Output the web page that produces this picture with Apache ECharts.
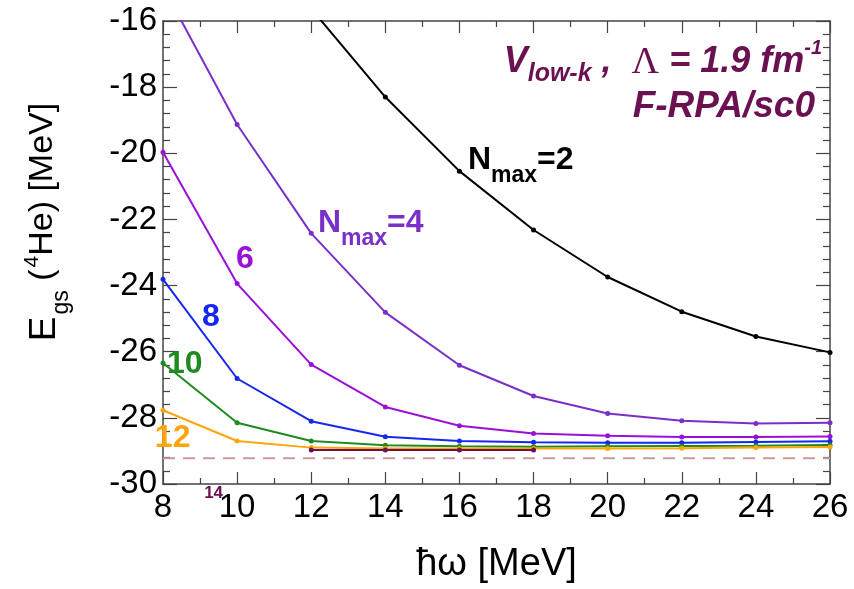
<!DOCTYPE html>
<html>
<head>
<meta charset="utf-8">
<script src="https://cdn.jsdelivr.net/npm/echarts@6/dist/echarts.min.js"></script>
<style>
  html, body { margin: 0; padding: 0; background: #fff; }
  #chart { width: 854px; height: 589px; }
</style>
</head>
<body>
<div id="chart"></div>
<script>
const hw = [8, 10, 12, 14, 16, 18, 20, 22, 24, 26];

const nmax2 = [null, null, -15.63, -18.30, -20.54, -22.32, -23.74, -24.79, -25.54, -26.02];
const nmax4 = [-14.96, -19.13, -22.42, -24.81, -26.41, -27.34, -27.87, -28.09, -28.17, -28.15];
const nmax6 = [-19.97, -23.94, -26.39, -27.67, -28.24, -28.47, -28.54, -28.58, -28.58, -28.56];
const nmax8 = [-23.81, -26.81, -28.10, -28.57, -28.70, -28.74, -28.75, -28.75, -28.73, -28.71];
const nmax10 = [-26.34, -28.15, -28.70, -28.83, -28.86, -28.87, -28.86, -28.85, -28.84, -28.82];
const nmax12 = [-27.77, -28.70, -28.90, -28.93, -28.93, -28.93, -28.93, -28.92, -28.90, -28.88];
const nmax14 = [null, null, -28.97, -28.97, -28.97, -28.97, null, null, null, null];
const exactLine = -29.22;

const lineColors = {
  n2: '#000000', n4: '#7a30c8', n6: '#9a10d8', n8: '#1428f0',
  n10: '#1f8a1f', n12: '#ffa50a', n14: '#6b1050'
};
const textColor = '#6b1050';

const el = document.getElementById('chart');
const chart = echarts.init(el);

function curve(name, vals, color) {
  return {
    name: name,
    type: 'line',
    data: hw.map((x, i) => [x, vals[i]]),
    connectNulls: false,
    clip: true,
    symbol: 'circle',
    symbolSize: 5,
    itemStyle: { color: color },
    lineStyle: { color: color, width: 2 },
    z: 3
  };
}

const axisLineStyle = { color: '#444', width: 1.5 };
const tickStyle = { color: '#444', width: 1.2 };
const font = 'Liberation Sans, Arial, sans-serif';

chart.setOption({
  animation: false,
  backgroundColor: '#fff',
  grid: { left: 163, right: 24, top: 21, bottom: 101 },
  xAxis: [
    {
      type: 'value', min: 8, max: 26, interval: 2, position: 'bottom',
      axisLine: { show: true, lineStyle: axisLineStyle },
      axisTick: { inside: true, length: 12, lineStyle: tickStyle },
      minorTick: { show: true, splitNumber: 2, length: 6, lineStyle: tickStyle },
      splitLine: { show: false },
      axisLabel: { color: '#000', fontSize: 33, fontFamily: font, margin: 7 },
      name: 'ħω [MeV]', nameLocation: 'middle', nameGap: 62,
      nameTextStyle: { color: '#000', fontSize: 38, fontFamily: font }
    },
    {
      type: 'value', min: 8, max: 26, interval: 2, position: 'top',
      axisLine: { show: true, onZero: false, lineStyle: axisLineStyle },
      axisTick: { inside: true, length: 12, lineStyle: tickStyle },
      minorTick: { show: true, splitNumber: 2, length: 6, lineStyle: tickStyle },
      splitLine: { show: false },
      axisLabel: { show: false }
    }
  ],
  yAxis: [
    {
      type: 'value', min: -30, max: -16, interval: 2, position: 'left',
      axisLine: { show: true, onZero: false, lineStyle: axisLineStyle },
      axisTick: { inside: true, length: 14, lineStyle: tickStyle },
      minorTick: { show: true, splitNumber: 5, length: 7, lineStyle: tickStyle },
      splitLine: { show: false },
      axisLabel: { color: '#000', fontSize: 33, fontFamily: font, margin: 6 }
    },
    {
      type: 'value', min: -30, max: -16, interval: 2, position: 'right',
      axisLine: { show: true, onZero: false, lineStyle: axisLineStyle },
      axisTick: { inside: true, length: 14, lineStyle: tickStyle },
      minorTick: { show: true, splitNumber: 5, length: 7, lineStyle: tickStyle },
      splitLine: { show: false },
      axisLabel: { show: false }
    }
  ],
  series: [
    {
      type: 'line',
      data: [[8, exactLine], [26, exactLine]],
      symbol: 'none',
      lineStyle: { color: '#c99a9a', width: 2, type: [12, 8] },
      z: 2
    },
    curve('Nmax=2', nmax2, lineColors.n2),
    curve('Nmax=4', nmax4, lineColors.n4),
    curve('Nmax=6', nmax6, lineColors.n6),
    curve('Nmax=8', nmax8, lineColors.n8),
    curve('Nmax=10', nmax10, lineColors.n10),
    curve('Nmax=12', nmax12, lineColors.n12),
    curve('Nmax=14', nmax14, lineColors.n14)
  ]
});

// curve labels, anchored in data coordinates (top-left corner)
const labels = [
  { at: [16.23, -19.73], text: '{n|N}{s|max}{n|=2}', color: lineColors.n2 },
  { at: [12.18, -21.63], text: '{n|N}{s|max}{n|=4}', color: lineColors.n4 },
  { at: [9.97, -22.71], text: '{n|6}', color: lineColors.n6 },
  { at: [9.05, -24.48], text: '{n|8}', color: lineColors.n8 },
  { at: [8.11, -25.89], text: '{n|10}', color: lineColors.n10 },
  { at: [7.78, -28.14], text: '{n|12}', color: lineColors.n12 },
  { at: [9.11, -30.02], text: '{m|14}', color: lineColors.n14 }
];

const graphics = labels.map(l => {
  const p = chart.convertToPixel({ gridIndex: 0 }, l.at);
  return {
    type: 'text', x: p[0], y: p[1], z: 10,
    style: {
      text: l.text,
      fill: l.color,
      rich: {
        n: { fontSize: 32, fontWeight: 'bold', fontFamily: font, fill: l.color, lineHeight: 32, verticalAlign: 'top' },
        s: { fontSize: 23, fontWeight: 'bold', fontFamily: font, fill: l.color, lineHeight: 23, verticalAlign: 'top', padding: [20, 0, 0, 0] },
        m: { fontSize: 17, fontWeight: 'bold', fontFamily: font, fill: l.color, lineHeight: 17, verticalAlign: 'top' }
      }
    }
  };
});

// y axis title, rotated
graphics.push({
  type: 'text', x: 22, y: 222, rotation: Math.PI / 2, z: 10,
  style: {
    text: '{e|E}{sub|gs}{t| (}{sup|4}{t|He) [MeV]}',
    align: 'center', verticalAlign: 'top',
    rich: {
      e: { fontSize: 37, fontFamily: font, fill: '#000', lineHeight: 40, verticalAlign: 'top', padding: [4, 0, 0, 0] },
      t: { fontSize: 34, fontFamily: font, fill: '#000', lineHeight: 40, verticalAlign: 'top', padding: [4, 0, 0, 0] },
      sub: { fontSize: 23, fontFamily: font, fill: '#000', lineHeight: 23, verticalAlign: 'top', padding: [28, 0, 0, 2] },
      sup: { fontSize: 21, fontFamily: font, fill: '#000', lineHeight: 21, verticalAlign: 'top', padding: [0, 0, 0, 2] }
    }
  }
});

graphics.push({
  type: 'text', x: 822, y: 38, z: 10,
  style: {
    text: '{v|V}{lk|low-k}{v| ,  }{lam|Λ}{v| = 1.9 fm}{sup|-1}',
    align: 'right',
    rich: {
      v: { fontSize: 36, fontWeight: 'bold', fontStyle: 'italic', fontFamily: font, fill: textColor, lineHeight: 38, verticalAlign: 'top', padding: [6, 0, 0, 0] },
      lk: { fontSize: 25, fontWeight: 'bold', fontStyle: 'italic', fontFamily: font, fill: textColor, lineHeight: 25, verticalAlign: 'top', padding: [24, 0, 0, 0] },
      lam: { fontSize: 38, fontFamily: 'Liberation Serif, Times New Roman, serif', fill: textColor, lineHeight: 38, verticalAlign: 'top', padding: [6, 0, 0, 0] },
      sup: { fontSize: 20, fontWeight: 'bold', fontStyle: 'italic', fontFamily: font, fill: textColor, lineHeight: 20, verticalAlign: 'top' }
    }
  }
});
graphics.push({
  type: 'text', x: 815, y: 88, z: 10,
  style: {
    text: 'F-RPA/sc0', align: 'right',
    fontSize: 37, fontWeight: 'bold', fontStyle: 'italic', fontFamily: font, fill: textColor
  }
});

chart.setOption({ graphic: graphics });
</script>
</body>
</html>
